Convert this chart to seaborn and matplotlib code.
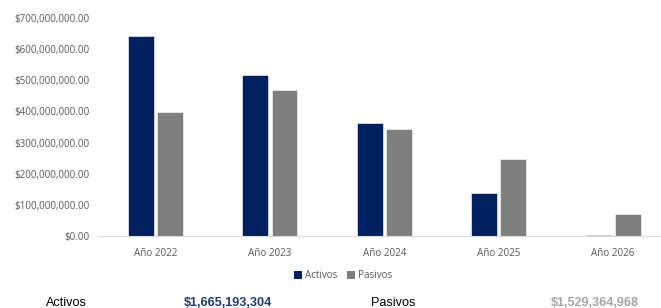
import matplotlib
matplotlib.use("Agg")
import matplotlib.pyplot as plt
import seaborn as sns
import pandas as pd
from matplotlib.ticker import FuncFormatter
from matplotlib.patches import Patch

categories = ["Año 2022", "Año 2023", "Año 2024", "Año 2025", "Año 2026"]
activos = [642e6, 518e6, 362e6, 139e6, 3e6]
pasivos = [398e6, 470e6, 343e6, 247e6, 70e6]
series = ["Activos", "Pasivos"]
colors = ["#002060", "#7F7F7F"]
total_activos = "$1,665,193,304"
total_pasivos = "$1,529,364,968"
yticks = [0, 100e6, 200e6, 300e6, 400e6, 500e6, 600e6, 700e6]

df = pd.DataFrame({
    "cat": categories * 2,
    "serie": ["Activos"] * len(categories) + ["Pasivos"] * len(categories),
    "valor": activos + pasivos,
})

sns.set_theme(style="white")
plt.rcParams["font.family"] = ["Open Sans", "DejaVu Sans"]

fig = plt.figure(figsize=(6.61, 3.08), dpi=100)
ax = fig.add_axes([98.3 / 661, 1 - 236 / 308, 572 / 661, 218 / 308])

sns.barplot(data=df, x="cat", y="valor", hue="serie", palette=colors,
            width=0.51, gap=0.12, ax=ax, legend=False, saturation=1,
            edgecolor="white", linewidth=0.4)

ax.set_ylim(0, 700e6)
ax.set_xlim(-0.5, 4.5)
ax.set_yticks(yticks)
ax.yaxis.set_major_formatter(FuncFormatter(lambda v, p: f"${v:,.2f}"))
ax.tick_params(axis="both", length=0, labelsize=7.1, labelcolor="#595959")
ax.tick_params(axis="y", pad=6.5)
ax.tick_params(axis="x", pad=9)
ax.set_xlabel("")
ax.set_ylabel("")
for s in ["top", "right", "left"]:
    ax.spines[s].set_visible(False)
ax.spines["bottom"].set_color("#D9D9D9")
ax.spines["bottom"].set_linewidth(0.8)
ax.grid(False)

handles = [Patch(facecolor=c, edgecolor="none", label=l) for c, l in zip(colors, series)]
fig.legend(handles=handles, loc="center", bbox_to_anchor=(343 / 661, 1 - 276 / 308),
           ncol=2, frameon=False, fontsize=7.1, labelcolor="#595959",
           handlelength=0.8, handleheight=0.8, handletextpad=0.3, columnspacing=1.0)

ty = 1 - 302.5 / 308
fam = ["Liberation Sans", "DejaVu Sans"]
fig.text(46 / 661, ty, "Activos", fontsize=9.1, color="black", va="center", family=fam)
fig.text(184 / 661, ty, total_activos, fontsize=9.1, color="#1F3B75", va="center",
         fontweight="bold", family=fam)
fig.text(371 / 661, ty, "Pasivos", fontsize=9.1, color="black", va="center", family=fam)
fig.text(551 / 661, ty, total_pasivos, fontsize=9.1, color="#A6A6A6", va="center",
         fontweight="bold", family=fam)

fig.savefig("out.png", dpi=100)
